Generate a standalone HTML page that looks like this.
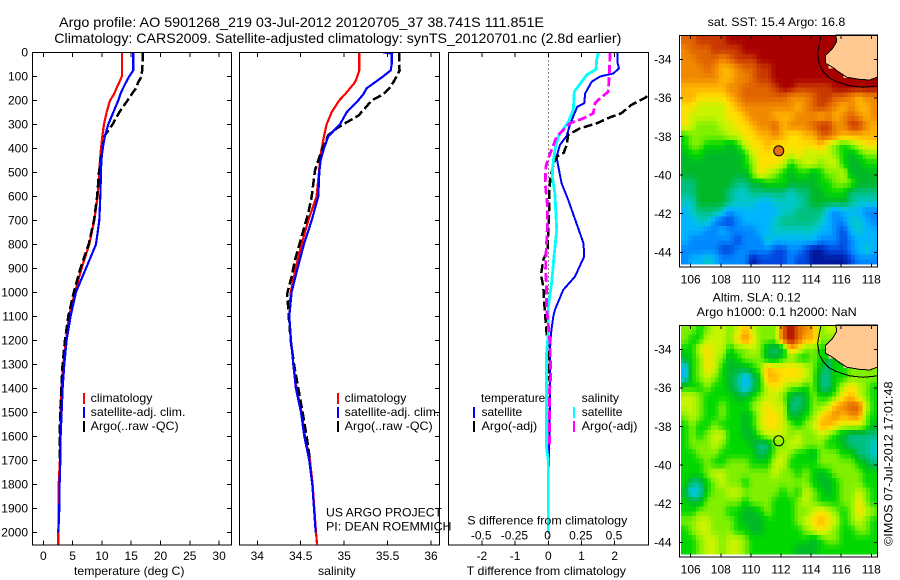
<!DOCTYPE html>
<html>
<head>
<meta charset="utf-8">
<title>Argo profile</title>
<style>
html,body{margin:0;padding:0;background:#fff;}
svg{display:block;}
text{font-family:"Liberation Sans",Arial,sans-serif;font-size:12px;fill:#000;}
.t{font-size:14px;}
</style>
</head>
<body>
<svg id="chart" xmlns="http://www.w3.org/2000/svg" width="900" height="580" viewBox="0 0 900 580">
<defs>
<clipPath id="clip-t"><rect x="33" y="53" width="198" height="492"/></clipPath>
<clipPath id="clip-s"><rect x="240" y="53" width="199" height="492"/></clipPath>
<clipPath id="clip-d"><rect x="449" y="53" width="199" height="492"/></clipPath>
</defs>
<text class="t" x="59" y="27" textLength="485" lengthAdjust="spacingAndGlyphs">Argo profile: AO 5901268_219 03-Jul-2012 20120705_37 38.741S 111.851E</text>
<text class="t" x="54.3" y="43" textLength="567" lengthAdjust="spacingAndGlyphs">Climatology: CARS2009. Satellite-adjusted climatology: synTS_20120701.nc (2.8d earlier)</text>

<g id="maps"></g>
<g id="panels"></g>

<text x="74" y="575" textLength="110.5" lengthAdjust="spacingAndGlyphs">temperature (deg C)</text>
<text x="318" y="575" textLength="37.7" lengthAdjust="spacingAndGlyphs">salinity</text>
<text x="466.7" y="575" textLength="159.3" lengthAdjust="spacingAndGlyphs">T difference from climatology</text>
<text x="467.3" y="524.5" textLength="160" lengthAdjust="spacingAndGlyphs">S difference from climatology</text>

<g>
<rect x="83" y="393" width="2" height="11" fill="#ff0000"/>
<rect x="83" y="407" width="2" height="11" fill="#0000ff"/>
<rect x="83" y="421" width="2" height="11" fill="#000000"/>
<text x="90.7" y="402" textLength="61.7" lengthAdjust="spacingAndGlyphs">climatology</text>
<text x="90.7" y="416" textLength="94.7" lengthAdjust="spacingAndGlyphs">satellite-adj. clim.</text>
<text x="90.7" y="430" textLength="88" lengthAdjust="spacingAndGlyphs">Argo(..raw -QC)</text>
</g>
<g>
<rect x="337" y="393" width="2" height="11" fill="#ff0000"/>
<rect x="337" y="407" width="2" height="11" fill="#0000ff"/>
<rect x="337" y="421" width="2" height="11" fill="#000000"/>
<text x="344.7" y="402" textLength="61.7" lengthAdjust="spacingAndGlyphs">climatology</text>
<text x="344.7" y="416" textLength="94.7" lengthAdjust="spacingAndGlyphs">satellite-adj. clim.</text>
<text x="344.7" y="430" textLength="88" lengthAdjust="spacingAndGlyphs">Argo(..raw -QC)</text>
</g>
<g>
<text x="481" y="402" textLength="64.3" lengthAdjust="spacingAndGlyphs">temperature</text>
<rect x="473" y="407" width="2" height="11" fill="#0000ff"/>
<rect x="473" y="421" width="2" height="11" fill="#000000"/>
<text x="481.5" y="416" textLength="40.7" lengthAdjust="spacingAndGlyphs">satellite</text>
<text x="481.5" y="430" textLength="55.7" lengthAdjust="spacingAndGlyphs">Argo(-adj)</text>
<text x="581.7" y="402" textLength="37.3" lengthAdjust="spacingAndGlyphs">salinity</text>
<rect x="573" y="407" width="2" height="11" fill="#00ffff"/>
<rect x="573" y="421" width="2" height="11" fill="#ff00ff"/>
<text x="581.7" y="416" textLength="40.7" lengthAdjust="spacingAndGlyphs">satellite</text>
<text x="581.7" y="430" textLength="55.7" lengthAdjust="spacingAndGlyphs">Argo(-adj)</text>
</g>

<text x="326" y="516.5" textLength="116" lengthAdjust="spacingAndGlyphs">US ARGO PROJECT</text>
<text x="326" y="530.5" textLength="125.5" lengthAdjust="spacingAndGlyphs">PI: DEAN ROEMMICH</text>

<text x="707.7" y="26" textLength="137.6" lengthAdjust="spacingAndGlyphs">sat. SST: 15.4 Argo: 16.8</text>
<text x="712.7" y="301.5" textLength="88" lengthAdjust="spacingAndGlyphs">Altim. SLA: 0.12</text>
<text x="696.7" y="316" textLength="160" lengthAdjust="spacingAndGlyphs">Argo h1000: 0.1 h2000: NaN</text>
<text transform="translate(892.5 546) rotate(-90)" x="0" y="0" textLength="164.5" lengthAdjust="spacingAndGlyphs">©IMOS 07-Jul-2012 17:01:48</text>
</svg>

<script>
// ---------- profile data (depth in m, temperature deg C, salinity PSU) ----------
const depthRed = [0,50,75,100,125,150,175,200,250,300,350,400,450,500,600,700,800,900,1000,1100,1200,1300,1400,1500,1600,1700,1800,1900,2000,2050];
const tempClim = [13.42,13.42,13.42,13.42,12.97,12.5,12.06,11.4,10.8,10.35,10.07,9.84,9.67,9.56,9.27,8.7,7.85,6.54,5.4,4.38,3.87,3.41,3.13,2.96,2.9,2.84,2.62,2.62,2.56,2.56];
const salClim = [35.175,35.175,35.175,35.152,35.125,35.067,35.01,34.944,34.856,34.798,34.768,34.741,34.722,34.71,34.683,34.587,34.51,34.441,34.384,34.369,34.388,34.415,34.453,34.51,34.549,34.607,34.637,34.656,34.676,34.687];

const depthBlue = [0,50,75,100,125,150,175,200,250,300,350,400,450,500,600,700,800,900,1000,1100,1200,1300,1400,1500,1600,1700,1800,1900,2000];
const tempSat = [15.36,15.36,15.36,14.68,14.11,13.6,13.14,12.8,11.95,11.09,10.52,10.13,9.9,9.84,9.73,9.56,8.99,7.28,5.57,4.66,3.98,3.58,3.3,3.13,2.96,2.9,2.79,2.73,2.56];
const salDepthBlue = [0,5,50,75,100,125,150,175,200,250,300,350,400,450,500,600,700,800,900,1000,1100,1200,1300,1400,1500,1600,1700,1800,1900,2000];
const salSat = [35.451,35.547,35.547,35.536,35.451,35.355,35.259,35.221,35.163,35.029,34.952,34.818,34.768,34.729,34.714,34.702,34.626,34.537,34.464,34.395,34.369,34.388,34.415,34.445,34.503,34.541,34.599,34.633,34.653,34.672];

const depthArgoT = [0,50,100,125,150,175,200,250,300,350,400,450,500,600,700,800,900,1000,1100,1200,1300,1400,1500,1600,1700];
const tempArgo = [16.95,16.95,16.78,16.2,15.8,15.07,14.39,12.97,11.83,10.41,10.13,9.78,9.5,9.2,8.65,7.74,6.33,5.2,4.27,3.7,3.3,3.07,2.9,2.79,2.79];
const depthArgoS = [0,50,75,100,125,150,175,200,226,264,296,317,345,408,492,600,670,768,865,935,1004,1100,1200,1300,1400,1500,1600,1700];
const salArgo = [35.631,35.631,35.639,35.605,35.566,35.52,35.451,35.317,35.259,35.163,35.01,34.914,34.818,34.741,34.664,34.626,34.587,34.51,34.434,34.395,34.345,34.361,34.384,34.422,34.472,34.522,34.568,34.607];

const diffDepthTSat = [0,46,67,88,101,122,171,213,227,261,303,349,386,435,476,546,615,713,796,851,935,990,1073,1101,1170,1240,1450,1650,1725];
const diffTSat = [2.09,2.09,2.13,1.96,1.56,1.31,1.11,1.08,.87,.77,.65,.55,.35,.25,.30,.40,.60,.85,1.06,1.08,.80,.45,.20,.15,.08,.05,.05,.02,.02];
const diffDepthTArgo = [0,100,150,191,219,254,271,296,317,344,386,418,435,462,518,574,629,740,824,865,928,976,1046,1087,1170,1212,1365];
const diffTArgo = [3.53,3.36,3.3,2.9,2.5,2.2,1.86,1.46,.95,.6,.55,.47,.25,.17,.07,.03,.03,0,-.02,-.15,-.22,-.15,-.12,-.1,-.05,0,0];
const diffDepthSSat = [0,32,71,94,164,240,289,351,407,476,518,588,740,851,962,1060,1170,1254,1650,1700,2000];
const diffSSat = [.377,.364,.359,.289,.196,.188,.151,.075,.05,.033,.03,.05,.063,.043,.025,0,0,-.013,-.013,0,0];
const diffDepthSArgo = [0,81,164,192,213,254,275,296,351,442,476,546,629,740,851,907,990,1060,1212,1351,1421,1650];
const diffSArgo = [.465,.46,.452,.389,.352,.339,.264,.163,.063,0,-.018,-.023,-.008,-.008,-.018,-.02,-.013,-.013,.013,.018,.008,.008];

// ---------- tick labels ----------
const depthTicks = [0,100,200,300,400,500,600,700,800,900,1000,1100,1200,1300,1400,1500,1600,1700,1800,1900,2000];
const tempTicks = [0,5,10,15,20,25,30];
const salTicks = [34,34.5,35,35.5,36];
const diffTTicks = [-2,-1,0,1,2];
const diffSTicks = [-0.5,-0.25,0,0.25,0.5];
const lonTicks = [106,108,110,112,114,116,118];
const latTicks = [34,36,38,40,42,44];

// ---------- map data: 26 columns, 24 rows; hex level per sample, '.' = land ----------
const sstRows = [
"DDEEEEFFFFFFFFFFFFFF......",
"CDDDEEEEFFFFFFFFFFFF......",
"CCDDDCDEEEFFFFFFFFF.......",
"CCCDCBBCDDEEFFFFFFF.......",
"CCCCCBBCCDEEFFFFFFFFF.....",
"BBBBBBCCDDDDEFFEEEEEFFFFFF",
"BBAAAABCDDDDDDCCCDEEDDCBCC",
"AA9999ABCCCCCCCBCDEDCBCBBC",
"A99999AABCCCBBBCCCBCBCDCBC",
"A988899AABCCDBCCCDEECCEECB",
"78888899AABBCBAABBDDCBBBBB",
"788777679AABAAAAAAB98789AA",
"6776666679AAAA9A9999876788",
"6666666678AAA9789989976677",
"6666666668A987677678896666",
"55666665566777666677888666",
"55666654455555455667775555",
"44666654443344445666665444",
"34555423333334455553233322",
"33442112333345555543224432",
"33322322223344444433213433",
"32222221222433333322212333",
"22222112222211221001112343",
"23343222201111211000001222"
];
const slaRows = [
"88789989B9888DFDCB89......",
"8779998ACA888DFDBB88......",
"779A9978898656BA887.......",
"678A986788866787787.......",
"378A9766678BAAAA98657.....",
"37898765357BBAAA9855778888",
"777877653579A988785579A987",
"998777766789986568778AB987",
"99877877789A99556889BCDD97",
"89877877679AA96678ABCBCC87",
"78778777679AA98789BBA99986",
"78789977668999898898765555",
"78889877765588998887765554",
"77888777775689877688877554",
"77787788877799777788888765",
"77789988888898878767888877",
"75578988788888888766788877",
"63478899888887879876788987",
"76688888788877789877788A87",
"778888776678777889A9878A98",
"88998887666777789ABA978987",
"789988877667777789A9877887",
"77899899877777777678877777",
"77899899877777766677777777"
];
const levelColors = ["#0018a0","#0048e0","#0088ff","#00b4ff","#00c8c8","#00c080","#00b828","#00d800","#80f000","#c8f400","#ffe000","#ffb400","#f08800","#e06400","#c83800","#a80000"];
const landColor = "#ffc890";
const floatLon = [111.851];
const floatLat = [38.741];
const landLon = [115.65,115.70,115.43,114.97,114.97,115.36,115.81,116.36,117.25,117.91,118.4,118.4];
const landLat = [32.74,33.08,33.43,33.78,34.21,34.38,34.64,34.93,35.04,35.07,34.92,32.74];
const contourLon = [114.66,114.55,114.43,114.55,114.81,115.25,115.7,116.58,117.47,118.4];
const contourLat = [32.74,33.17,33.69,34.29,34.64,34.98,35.16,35.38,35.45,35.38];

// ---------- axis functions ----------
const NS = "http://www.w3.org/2000/svg";
const yD = d => 52.3 + 0.24 * d;
const xT = v => 43.3 + 5.86 * v;
const xS = v => 257.3 + 86.85 * (v - 34);
const xDT = v => 548.3 + 33.2 * v;
const xDS = v => 548.3 + 132.8 * v;

function el(tag, attrs, parent) {
  const e = document.createElementNS(NS, tag);
  for (const k in attrs) e.setAttribute(k, attrs[k]);
  parent.appendChild(e);
  return e;
}
function linePath(xs, ds, xf) {
  return xs.map((v, i) => (i ? "L" : "M") + xf(v).toFixed(1) + " " + yD(ds[i]).toFixed(1)).join("");
}

const panels = document.getElementById("panels");
const maps = document.getElementById("maps");

// ---------- profile panels ----------
const panelDefs = [
  {id:"temperature", clip:"clip-t", left:32.5, right:231.5, xf:xT, ticks:tempTicks, leftTicks:true, rightTicks:true,
   series:[
    {name:"climatology-line", xs:tempClim, ds:depthRed, color:"#ff0000", w:2.2},
    {name:"argo-line", xs:tempArgo, ds:depthArgoT, color:"#000000", w:2.5, dash:"9 3.5"},
    {name:"satellite-adjusted-line", xs:tempSat, ds:depthBlue, color:"#0000ff", w:2.2}
   ]},
  {id:"salinity", clip:"clip-s", left:239.5, right:439.5, xf:xS, ticks:salTicks, leftTicks:false, rightTicks:true,
   series:[
    {name:"climatology-line", xs:salClim, ds:depthRed, color:"#ff0000", w:2.2},
    {name:"argo-line", xs:salArgo, ds:depthArgoS, color:"#000000", w:2.5, dash:"9 3.5"},
    {name:"satellite-adjusted-line", xs:salSat, ds:salDepthBlue, color:"#0000ff", w:2.2}
   ]},
  {id:"difference", clip:"clip-d", left:448.5, right:648.5, xf:xDT, ticks:diffTTicks, leftTicks:false, rightTicks:false,
   series:[
    {name:"t-satellite-difference-line", xs:diffTSat, ds:diffDepthTSat, color:"#0000ff", w:2},
    {name:"t-argo-difference-line", xs:diffTArgo, ds:diffDepthTArgo, color:"#000000", w:2.5, dash:"9 3.5", xf:xDT},
    {name:"s-satellite-difference-line", xs:diffSSat, ds:diffDepthSSat, color:"#00ffff", w:2.8, xf:xDS},
    {name:"s-argo-difference-line", xs:diffSArgo, ds:diffDepthSArgo, color:"#ff00ff", w:2.8, dash:"9 3.5", xf:xDS}
   ]}
];

panelDefs.forEach(p => {
  const g = el("g", {}, panels);
  
  

  if (p.id === "difference") {
    const zero = el("line", {x1:xDT(0), x2:xDT(0), y1:52.5, y2:545, stroke:"#000", "stroke-width":1, "stroke-dasharray":"1 3", "shape-rendering":"crispEdges"}, g);
    
    
  }

  const lines = el("g", {"clip-path":"url(#" + p.clip + ")"}, g);
  
  
  p.series.forEach(s => {
    const attrs = {d:linePath(s.xs, s.ds, s.xf || p.xf), fill:"none", stroke:s.color, "stroke-width":s.w, "shape-rendering":"crispEdges"};
    if (s.dash) attrs["stroke-dasharray"] = s.dash;
    const path = el("path", attrs, lines);
    
    
  });

  const frame = el("rect", {x:p.left, y:52.5, width:p.right - p.left, height:492.5, fill:"none", stroke:"#000", "stroke-width":1, "shape-rendering":"crispEdges"}, g);
  
  

  p.ticks.forEach(t => {
    const x = p.xf(t);
    const top = el("line", {x1:x, x2:x, y1:52.5, y2:57, stroke:"#000", "shape-rendering":"crispEdges"}, g);
    
    
    const bottom = el("line", {x1:x, x2:x, y1:545, y2:540.5, stroke:"#000", "shape-rendering":"crispEdges"}, g);
    
    
    const label = el("text", {x:x, y:560, "text-anchor":"middle"}, g);
    label.textContent = String(t);
    
    
  });

  depthTicks.forEach(d => {
    const y = yD(d);
    if (p.leftTicks) {
      const lt = el("line", {x1:p.left, x2:p.left + 4.5, y1:y, y2:y, stroke:"#000", "shape-rendering":"crispEdges"}, g);
      
      
      const label = el("text", {x:28, y:y + 4.3, "text-anchor":"end"}, g);
      label.textContent = String(d);
      
      
    }
    if (p.rightTicks) {
      const rt = el("line", {x1:p.right, x2:p.right - 4.5, y1:y, y2:y, stroke:"#000", "shape-rendering":"crispEdges"}, g);
      
      
    }
  });
});

diffSTicks.forEach(t => {
  const label = el("text", {x:xDS(t) - 0.7, y:539.5, "text-anchor":"middle"}, panels);
  label.textContent = String(t);
  
  
});

// ---------- maps ----------
function hexRgb(h) {
  return [parseInt(h.slice(1,3),16), parseInt(h.slice(3,5),16), parseInt(h.slice(5,7),16)];
}
function levelColor(v) {
  const i = Math.max(0, Math.min(levelColors.length - 2, Math.floor(v)));
  const f = Math.max(0, Math.min(1, v - i));
  const a = hexRgb(levelColors[i]), b = hexRgb(levelColors[i + 1]);
  return "rgb(" + a.map((c, k) => Math.round(c + (b[k] - c) * f)).join(",") + ")";
}
// grid value at fractional row/col, blending the surrounding sea samples
function sample(grid, r, c) {
  const r0 = Math.max(0, Math.min(grid.length - 1, Math.floor(r)));
  const r1 = Math.min(grid.length - 1, r0 + 1);
  const c0 = Math.max(0, Math.min(grid[0].length - 1, Math.floor(c)));
  const c1 = Math.min(grid[0].length - 1, c0 + 1);
  const fr = Math.max(0, Math.min(1, r - r0)), fc = Math.max(0, Math.min(1, c - c0));
  let sum = 0, wt = 0;
  [[r0,c0,(1-fr)*(1-fc)],[r0,c1,(1-fr)*fc],[r1,c0,fr*(1-fc)],[r1,c1,fr*fc]].forEach(q => {
    const v = grid[q[0]][q[1]];
    if (v !== null && q[2] > 0) { sum += v * q[2]; wt += q[2]; }
  });
  return wt > 0 ? sum / wt : null;
}

function drawMap(name, rows, top, showFill) {
  const xL = lon => 690.7 + 15.05 * (lon - 106);
  const yL = lat => top + 24.3 + 19.3 * (lat - 34);
  const lon0 = 105.34, dLon = 0.503, lat0 = 32.74, dLat = 0.495;
  const g = el("g", {}, maps);
  
  

  const grid = rows.map(row => row.split("").map(c => c === "." ? null : parseInt(c, 16)));
  const sub = 2;
  for (let i = 0; i < rows.length * sub; i++) {
    for (let j = 0; j < rows[0].length * sub; j++) {
      const v = sample(grid, (i + 0.5) / sub - 0.5, (j + 0.5) / sub - 0.5);
      const x0 = xL(lon0 + j / sub * dLon), x1 = xL(lon0 + (j + 1) / sub * dLon);
      const y0 = yL(lat0 + i / sub * dLat), y1 = yL(lat0 + (i + 1) / sub * dLat);
      const cell = el("rect", {x:x0.toFixed(2), y:y0.toFixed(2), width:(x1 - x0 + 0.4).toFixed(2), height:(y1 - y0 + 0.4).toFixed(2), fill:v === null ? landColor : levelColor(v), "shape-rendering":"crispEdges"}, g);
      
      
    }
  }

  const landPts = landLon.map((v, i) => xL(v).toFixed(1) + "," + yL(landLat[i]).toFixed(1)).join(" ");
  const land = el("polygon", {points:landPts, fill:landColor, stroke:"#000", "stroke-width":1, "shape-rendering":"crispEdges"}, g);
  
  

  const contourPts = contourLon.map((v, i) => xL(v).toFixed(1) + "," + yL(contourLat[i]).toFixed(1)).join(" ");
  const contour = el("polyline", {points:contourPts, fill:"none", stroke:"#000", "stroke-width":1, "shape-rendering":"crispEdges"}, g);
  
  

  const marker = el("circle", {cx:xL(floatLon[0]), cy:yL(floatLat[0]), r:5, fill:showFill ? "#e07010" : "none", stroke:"#000", "stroke-width":1}, g);
  
  

  const frame = el("rect", {x:679.5, y:top + 0.5, width:198, height:231.5, fill:"none", stroke:"#000", "stroke-width":1, "shape-rendering":"crispEdges"}, g);
  
  

  lonTicks.forEach(t => {
    const x = xL(t);
    const a = el("line", {x1:x, x2:x, y1:top + 0.5, y2:top + 4, stroke:"#000", "shape-rendering":"crispEdges"}, g);
    
    
    const b = el("line", {x1:x, x2:x, y1:top + 232, y2:top + 228.5, stroke:"#000", "shape-rendering":"crispEdges"}, g);
    
    
    const label = el("text", {x:x, y:top + 248.6, "text-anchor":"middle"}, g);
    label.textContent = String(t);
    
    
  });
  latTicks.forEach(t => {
    const y = yL(t);
    const a = el("line", {x1:679.5, x2:683, y1:y, y2:y, stroke:"#000", "shape-rendering":"crispEdges"}, g);
    
    
    const b = el("line", {x1:877.5, x2:874, y1:y, y2:y, stroke:"#000", "shape-rendering":"crispEdges"}, g);
    
    
    const label = el("text", {x:671.5, y:y + 4.3, "text-anchor":"end"}, g);
    label.textContent = "-" + t;
    
    
  });
}
drawMap("sst", sstRows, 35, true);
drawMap("sla", slaRows, 325, false);
</script>
</body>
</html>
